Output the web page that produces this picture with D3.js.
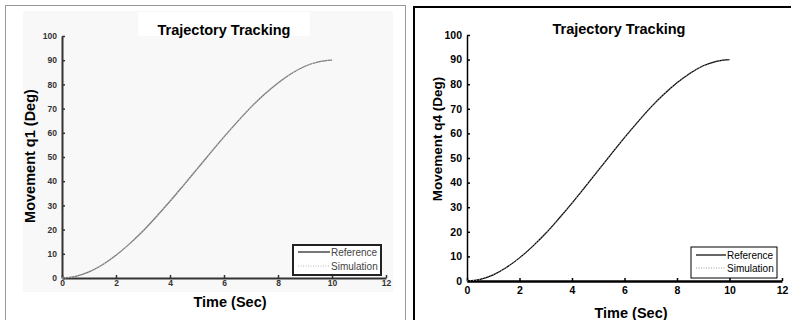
<!DOCTYPE html>
<html><head><meta charset="utf-8">
<script src="https://cdn.jsdelivr.net/npm/d3@7/dist/d3.min.js"></script>
<style>body{margin:0;background:#fff}svg{display:block}</style>
</head><body><svg id="c" width="791" height="320"></svg>
<script>
const timeSec = [0,0.5,1,1.5,2,2.5,3,3.5,4,4.5,5,5.5,6,6.5,7,7.5,8,8.5,9,9.5,10];
const q1Reference  = [0,0.65,2.5,5.5,9.4,14.1,19.4,25.4,31.7,38.3,45,51.7,58.3,64.6,70.6,75.9,80.6,84.5,87.5,89.3,90];
const q1Simulation = [0,0.6,2.6,5.4,9.5,14.0,19.5,25.3,31.8,38.2,45.1,51.6,58.4,64.5,70.7,75.8,80.7,84.4,87.6,89.3,90];
const q4Reference  = [0,0.65,2.5,5.5,9.4,14.1,19.4,25.4,31.7,38.3,45,51.7,58.3,64.6,70.6,75.9,80.6,84.5,87.5,89.3,90];
const q4Simulation = [0,0.6,2.6,5.5,9.3,14.2,19.4,25.5,31.6,38.4,45,51.8,58.2,64.7,70.5,76.0,80.5,84.6,87.4,89.4,90];
const xTicks = [0,2,4,6,8,10,12];
const yTicks = [0,10,20,30,40,50,60,70,80,90,100];
const legendLabels = ["Reference","Simulation"];

const svg = d3.select("#c");

// panel frames / backgrounds
svg.append("rect").attr("x",5.5).attr("y",5.5).attr("width",400).attr("height",330)
  .attr("fill","#fff").attr("stroke","#999").attr("stroke-width",1);
svg.append("rect").attr("x",23).attr("y",11).attr("width",370).attr("height",281).attr("fill","#f8f8f8");
svg.append("rect").attr("x",138).attr("y",12).attr("width",172).attr("height",24).attr("fill","#fff");
svg.append("rect").attr("x",160).attr("y",292).attr("width",138).attr("height",28).attr("fill","#fff");
svg.append("rect").attr("x",414).attr("y",7).attr("width",390).attr("height",330)
  .attr("fill","#fff").attr("stroke","#000").attr("stroke-width",2);

function panel(cfg){
  const x = d3.scaleLinear().domain([0,12]).range(cfg.xr);
  const y = d3.scaleLinear().domain([0,100]).range(cfg.yr);
  const g = svg.append("g");
  const ax = g.append("g").attr("transform",`translate(0,${cfg.yr[0]})`)
    .call(d3.axisBottom(x).tickValues(xTicks).tickSizeInner(-cfg.tick).tickSizeOuter(0).tickPadding(cfg.xpad));
  ax.select(".domain").attr("stroke",cfg.axisColor).attr("stroke-width",cfg.xAxisW);
  const ay = g.append("g").attr("transform",`translate(${cfg.xr[0]},0)`)
    .call(d3.axisLeft(y).tickValues(yTicks).tickSizeInner(-cfg.tick).tickSizeOuter(0).tickPadding(cfg.ypad));
  ay.select(".domain").attr("stroke",cfg.axisColor).attr("stroke-width",cfg.yAxisW);
  [ax,ay].forEach(a=>{
    a.selectAll(".tick line").attr("stroke",cfg.axisColor).attr("stroke-width",1.5);
    a.selectAll(".tick text").attr("fill",cfg.labelColor)
      .style("font-family","'Liberation Sans Narrow','Liberation Sans',Arial,sans-serif")
      .style("font-weight","bold").style("font-size",cfg.tickFont+"px");
  });
  const line = d3.line().x((d,i)=>x(timeSec[i])).y(d=>y(d)).curve(d3.curveMonotoneX);
  g.append("path").datum(cfg.ref).attr("d",line).attr("fill","none")
    .attr("stroke",cfg.refColor).attr("stroke-width",cfg.refW);
  g.append("path").datum(cfg.sim).attr("d",line).attr("fill","none")
    .attr("stroke",cfg.simColor).attr("stroke-width",1).attr("stroke-dasharray","1,2");
  // titles
  const tf = "'Liberation Sans',Arial,sans-serif";
  g.append("text").attr("x",cfg.titleX).attr("y",cfg.titleY).attr("text-anchor","middle")
    .style("font-family",tf).style("font-weight","bold").style("font-size","14.5px").attr("fill","#000")
    .text("Trajectory Tracking");
  g.append("text").attr("x",cfg.xlabX).attr("y",cfg.xlabY).attr("text-anchor","middle")
    .style("font-family",tf).style("font-weight","bold").style("font-size","14.5px").attr("fill","#000")
    .text("Time (Sec)");
  g.append("text").attr("transform",`translate(${cfg.ylabX},${cfg.ylabY}) rotate(-90)`).attr("text-anchor","middle")
    .style("font-family",tf).style("font-weight","bold").style("font-size",cfg.ylabFont+"px").attr("fill","#000")
    .text(cfg.ylab);
  // legend
  const L = cfg.leg;
  g.append("rect").attr("x",L.x).attr("y",L.y).attr("width",L.w).attr("height",L.h)
    .attr("fill","#fff").attr("stroke",L.stroke).attr("stroke-width",L.sw);
  legendLabels.forEach((lab,i)=>{
    const ly = L.y + L.r0 + i*L.dr;
    g.append("line").attr("x1",L.x+5).attr("x2",L.x+L.lineW).attr("y1",ly).attr("y2",ly)
      .attr("stroke", i===0?cfg.refColor:cfg.simColor).attr("stroke-width", i===0?cfg.legRefW:1)
      .attr("stroke-dasharray", i===0?null:"1,1.5");
    g.append("text").attr("x",L.x+L.lineW+1).attr("y",ly+3.5)
      .style("font-family",tf).style("font-size","10px").attr("fill",cfg.legText).text(lab);
  });
}

panel({xr:[62,386], yr:[278,36], tick:3, xpad:2, ypad:5, axisColor:"#333", labelColor:"#333",
  xAxisW:2, yAxisW:2, tickFont:8.5, ref:q1Reference, sim:q1Simulation, refColor:"#777", refW:1.3,
  simColor:"#bbb", titleX:224, titleY:35, xlabX:230, xlabY:307, ylabX:35, ylabY:156, ylabFont:14.5,
  ylab:"Movement q1 (Deg)", legRefW:2, legText:"#444",
  leg:{x:293,y:245,w:88,h:30,stroke:"#222",sw:2,r0:7,dr:14,lineW:37}});

panel({xr:[467,782], yr:[281,35], tick:3, xpad:6, ypad:5, axisColor:"#000", labelColor:"#000",
  xAxisW:2.5, yAxisW:1.5, tickFont:10.5, ref:q4Reference, sim:q4Simulation, refColor:"#000", refW:1.2,
  simColor:"#999", titleX:619, titleY:34, xlabX:631, xlabY:318, ylabX:442, ylabY:139, ylabFont:13.5,
  ylab:"Movement q4 (Deg)", legRefW:1.2, legText:"#000",
  leg:{x:691,y:247,w:86,h:31,stroke:"#000",sw:1,r0:8,dr:13,lineW:35}});
</script></body></html>
